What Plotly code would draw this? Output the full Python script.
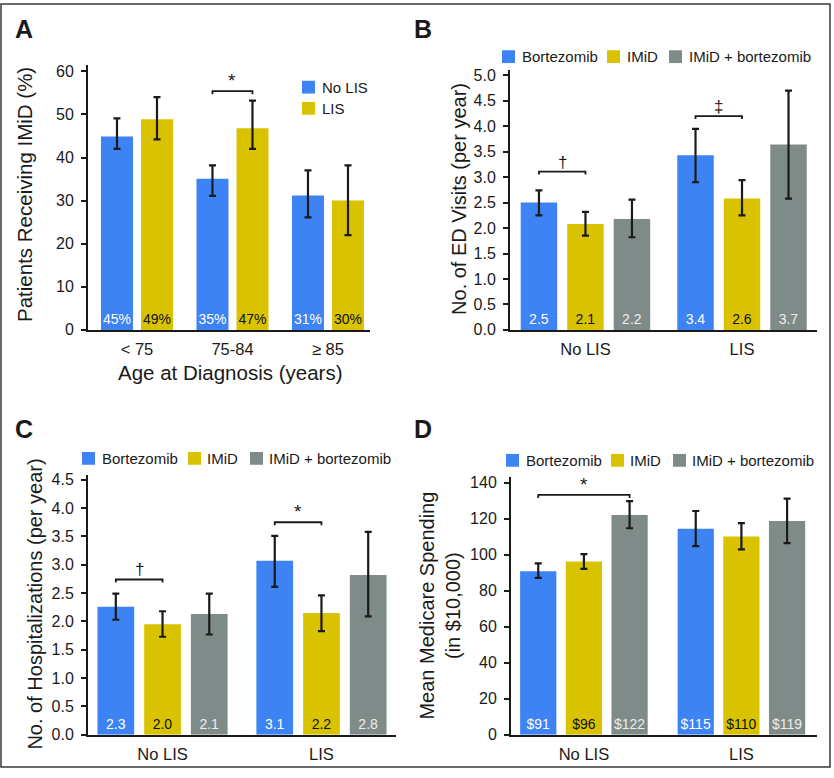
import plotly.graph_objects as go

W, H = 834, 778
FONT = "Liberation Sans, Arial, sans-serif"
INK = "#1a1a1a"

# ---------------- data ----------------
# Panel A: patients receiving IMiD (%) by age group
age_groups = ["< 75", "75-84", "≥ 85"]
a_series = ["No LIS", "LIS"]
a_no_lis = [44.9, 35.1, 31.2]
a_no_lis_hi = [49.1, 38.2, 37.0]
a_no_lis_lo = [42.0, 31.1, 26.1]
a_no_lis_labels = ["45%", "35%", "31%"]
a_lis = [48.9, 46.8, 30.0]
a_lis_hi = [54.0, 53.2, 38.2]
a_lis_lo = [44.2, 42.0, 22.0]
a_lis_labels = ["49%", "47%", "30%"]

lis_groups = ["No LIS", "LIS"]
treatments = ["Bortezomib", "IMiD", "IMiD + bortezomib"]

# Panel B: ED visits per year
b_bort = [2.50, 3.43]
b_bort_hi = [2.74, 3.95]
b_bort_lo = [2.25, 2.90]
b_bort_labels = ["2.5", "3.4"]
b_imid = [2.08, 2.58]
b_imid_hi = [2.32, 2.94]
b_imid_lo = [1.85, 2.25]
b_imid_labels = ["2.1", "2.6"]
b_combo = [2.18, 3.64]
b_combo_hi = [2.56, 4.70]
b_combo_lo = [1.82, 2.58]
b_combo_labels = ["2.2", "3.7"]

# Panel C: hospitalizations per year
c_bort = [2.26, 3.07]
c_bort_hi = [2.49, 3.51]
c_bort_lo = [2.03, 2.61]
c_bort_labels = ["2.3", "3.1"]
c_imid = [1.95, 2.15]
c_imid_hi = [2.18, 2.46]
c_imid_lo = [1.73, 1.83]
c_imid_labels = ["2.0", "2.2"]
c_combo = [2.13, 2.82]
c_combo_hi = [2.49, 3.58]
c_combo_lo = [1.77, 2.09]
c_combo_labels = ["2.1", "2.8"]

# Panel D: mean Medicare spending (in $10,000)
d_bort = [90.8, 114.5]
d_bort_hi = [95.2, 124.3]
d_bort_lo = [87.1, 104.8]
d_bort_labels = ["$91", "$115"]
d_imid = [96.2, 110.1]
d_imid_hi = [100.3, 117.6]
d_imid_lo = [92.2, 103.0]
d_imid_labels = ["$96", "$110"]
d_combo = [122.1, 118.8]
d_combo_hi = [129.8, 131.2]
d_combo_lo = [114.7, 106.5]
d_combo_labels = ["$122", "$119"]

# significance brackets: (group index, series i, series j, y value, symbol)
a_sig = [(1, 0, 1, 55.4, "*")]
b_sig = [(0, 0, 1, 3.11, "†"), (1, 0, 1, 4.20, "‡")]
c_sig = [(0, 0, 1, 2.74, "†"), (1, 0, 1, 3.75, "*")]
d_sig = [(0, 0, 2, 133.2, "*")]

# ---------------- styles ----------------
BLUE = "#3d83f4"
YELLOW = "#d9c200"
GRAY = "#7f8b89"
bar_colors = [BLUE, YELLOW, GRAY]
label_colors = ["#ffffff", "#111111", "#eeeeee"]

def xp(px):
    return px / W

def yp(py):
    return 1 - py / H

# panel geometry in pixels: x-domain, y-domain (bottom, top), x-range, y-range, slot, bar width
panels = {
    "A": dict(ax="", xdom=(88, 370), ydom=(332, 63.3), xr=(-0.513, 2.44), yr=(0, 61.4),
              slot=0.419, bw=0.335, dtick=10, fmt="d"),
    "B": dict(ax="2", xdom=(510, 817), ydom=(332, 68.3), xr=(-0.482, 1.479), yr=(0, 5.10),
              slot=0.297, bw=0.233, dtick=0.5, fmt=".1f"),
    "C": dict(ax="3", xdom=(88, 396), ydom=(743.3, 479), xr=(-0.469, 1.469), yr=(0, 4.59),
              slot=0.294, bw=0.231, dtick=0.5, fmt=".1f"),
    "D": dict(ax="4", xdom=(511, 817), ydom=(743.3, 481), xr=(-0.463, 1.48), yr=(0, 143.4),
              slot=0.290, bw=0.230, dtick=20, fmt="d"),
}

fig = go.Figure()
annotations = []
shapes = []


def add_panel(key, groups, series, sig):
    p = panels[key]
    n = len(series)
    xref, yref = "x" + p["ax"], "y" + p["ax"]
    xs = list(range(len(groups)))
    centers = []
    for i, (name, vals, hi, lo, labels) in enumerate(series):
        off = (i - (n - 1) / 2) * p["slot"]
        centers.append(off)
        fig.add_trace(go.Bar(
            x=xs, y=vals, name=name, width=p["bw"], offset=off - p["bw"] / 2,
            marker=dict(color=bar_colors[i], line=dict(width=0)),
            error_y=dict(type="data", symmetric=False,
                         array=[h - v for h, v in zip(hi, vals)],
                         arrayminus=[v - l for v, l in zip(vals, lo)],
                         color=INK, thickness=2.2, width=3.5),
            text=labels, textposition="inside", insidetextanchor="start", textangle=0,
            constraintext="none",
            textfont=dict(family=FONT, size=14, color=label_colors[i]),
            showlegend=False, xaxis=xref, yaxis=yref, cliponaxis=False,
            hoverinfo="skip",
        ))
    # bracket drop in data units (~3 px)
    ypx = p["ydom"][0] - p["ydom"][1]
    drop = 3 * (p["yr"][1] - p["yr"][0]) / ypx
    for g, i, j, yv, sym in sig:
        x1, x2 = g + centers[i], g + centers[j]
        fig.add_trace(go.Scatter(
            x=[x1, x1, x2, x2], y=[yv - drop, yv, yv, yv - drop], mode="lines",
            line=dict(color=INK, width=1.8), showlegend=False,
            xaxis=xref, yaxis=yref, hoverinfo="skip", cliponaxis=False,
        ))
        annotations.append(dict(
            x=(x1 + x2) / 2, y=yv, xref=xref, yref=yref, text=sym, showarrow=False,
            yanchor="bottom", yshift=-2,
            font=dict(family=FONT, size=19 if sym == "*" else 17, color=INK),
        ))
    xa = dict(
        domain=[xp(p["xdom"][0]), xp(p["xdom"][1])], range=list(p["xr"]),
        tickmode="array", tickvals=xs, ticktext=groups,
        showline=True, linecolor=INK, linewidth=2, ticks="", showgrid=False,
        zeroline=False, tickfont=dict(family=FONT, size=16.5, color=INK),
        ticklabelstandoff=3, anchor=yref, fixedrange=True,
    )
    ya = dict(
        domain=[yp(p["ydom"][0]), yp(p["ydom"][1])], range=list(p["yr"]),
        tick0=0, dtick=p["dtick"], tickformat=p["fmt"],
        showline=True, linecolor=INK, linewidth=2, ticks="outside", ticklen=5,
        tickwidth=1.5, tickcolor=INK, showgrid=False, zeroline=False,
        tickfont=dict(family=FONT, size=16, color=INK), ticklabelstandoff=4,
        anchor=xref, fixedrange=True,
    )
    fig.update_layout(**{"xaxis" + p["ax"]: xa, "yaxis" + p["ax"]: ya})


add_panel("A", age_groups, [
    (a_series[0], a_no_lis, a_no_lis_hi, a_no_lis_lo, a_no_lis_labels),
    (a_series[1], a_lis, a_lis_hi, a_lis_lo, a_lis_labels),
], a_sig)
add_panel("B", lis_groups, [
    (treatments[0], b_bort, b_bort_hi, b_bort_lo, b_bort_labels),
    (treatments[1], b_imid, b_imid_hi, b_imid_lo, b_imid_labels),
    (treatments[2], b_combo, b_combo_hi, b_combo_lo, b_combo_labels),
], b_sig)
add_panel("C", lis_groups, [
    (treatments[0], c_bort, c_bort_hi, c_bort_lo, c_bort_labels),
    (treatments[1], c_imid, c_imid_hi, c_imid_lo, c_imid_labels),
    (treatments[2], c_combo, c_combo_hi, c_combo_lo, c_combo_labels),
], c_sig)
add_panel("D", lis_groups, [
    (treatments[0], d_bort, d_bort_hi, d_bort_lo, d_bort_labels),
    (treatments[1], d_imid, d_imid_hi, d_imid_lo, d_imid_labels),
    (treatments[2], d_combo, d_combo_hi, d_combo_lo, d_combo_labels),
], d_sig)


def text_ann(x, y, text, size, angle=0, bold=False, xanchor="center", yanchor="middle"):
    annotations.append(dict(
        x=xp(x), y=yp(y), xref="paper", yref="paper", text=f"<b>{text}</b>" if bold else text,
        showarrow=False, textangle=angle, xanchor=xanchor, yanchor=yanchor,
        font=dict(family=FONT, size=size, color=INK),
    ))

# panel letters
text_ann(24, 26, "A", 25, bold=True)
text_ann(423, 26, "B", 25, bold=True)
text_ann(24, 433, "C", 25, bold=True)
text_ann(423, 433, "D", 25, bold=True)

# axis titles
text_ann(25, 195, "Patients Receiving IMiD (%)", 20.5, angle=-90)
text_ann(230, 375, "Age at Diagnosis (years)", 20.5)
text_ann(459, 199, "No. of ED Visits (per year)", 20, angle=-90)
text_ann(35, 611, "No. of Hospitalizations (per year)", 20, angle=-90)
text_ann(440, 612, "Mean Medicare Spending<br>(in $10,000)", 20, angle=-90)

# legends (square swatch + label)
def legend_item(sx, sy, label, color, tx):
    shapes.append(dict(type="rect", xref="paper", yref="paper",
                       x0=xp(sx), x1=xp(sx + 13), y0=yp(sy + 6.5), y1=yp(sy - 6.5),
                       fillcolor=color, line=dict(width=0)))
    text_ann(tx, sy, label, 15, xanchor="left")

legend_item(302, 85.5, a_series[0], BLUE, 320)
legend_item(302, 107, a_series[1], YELLOW, 320)
for (sx, tx), name, col in zip([(502, 520), (607, 625), (669, 687)], treatments, bar_colors):
    legend_item(sx, 54.5, name, col, tx)
for (sx, tx), name, col in zip([(82, 100), (188, 205), (250, 267)], treatments, bar_colors):
    legend_item(sx, 462.5, name, col, tx)
for (sx, tx), name, col in zip([(506, 524), (611, 628), (673, 690)], treatments, bar_colors):
    legend_item(sx, 464.5, name, col, tx)

# outer frame
shapes.append(dict(type="rect", xref="paper", yref="paper",
                   x0=xp(1), x1=xp(830), y0=yp(776), y1=yp(1),
                   line=dict(color="#3a3a3a", width=1.5)))

fig.update_layout(
    width=W, height=H, margin=dict(l=0, r=0, t=0, b=0),
    paper_bgcolor="white", plot_bgcolor="white",
    annotations=annotations, shapes=shapes, showlegend=False,
    font=dict(family=FONT, color=INK),
)

fig.write_html("out.html", config={"displayModeBar": False},
               post_script="document.body.style.margin='0';")
